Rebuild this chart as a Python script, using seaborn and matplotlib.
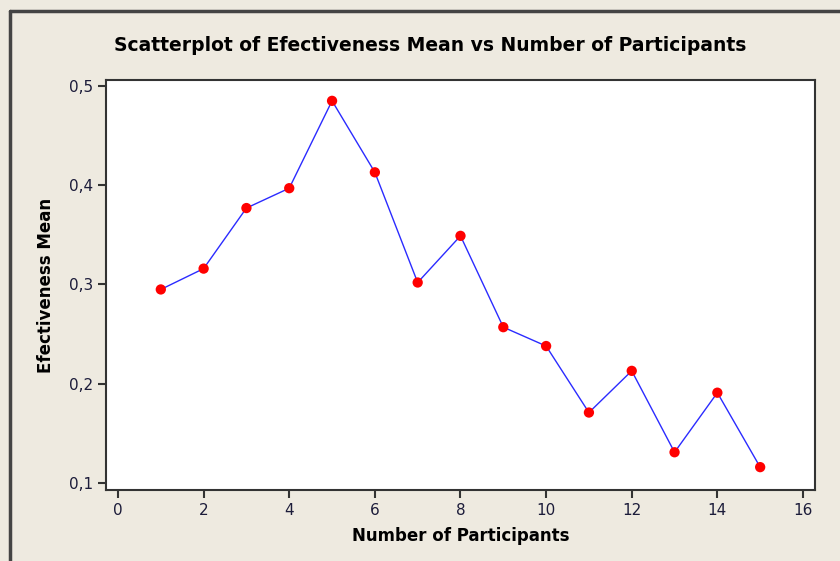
import numpy as np
import pandas as pd
import matplotlib
matplotlib.use("Agg")
import matplotlib.pyplot as plt
import seaborn as sns
from matplotlib.lines import Line2D
from matplotlib.ticker import FuncFormatter

# values
participants = [1, 2, 3, 4, 5, 6, 7, 8, 9, 10, 11, 12, 13, 14, 15]
effectiveness = [0.295, 0.316, 0.377, 0.397, 0.485, 0.413, 0.302, 0.349,
                 0.257, 0.238, 0.171, 0.213, 0.131, 0.191, 0.116]
x_ticks = [0, 2, 4, 6, 8, 10, 12, 14, 16]
y_ticks = [0.1, 0.2, 0.3, 0.4, 0.5]

df = pd.DataFrame({"Number of Participants": participants,
                   "Efectiveness Mean": effectiveness})

sns.set_style("white")
plt.rcParams['font.family'] = ['DejaVu Sans']
plt.rcParams['text.color'] = 'black'
plt.rcParams['axes.labelcolor'] = 'black'

bg = "#EEEAE0"
fig = plt.figure(figsize=(8.4, 5.61), dpi=100, facecolor=bg)
ax = fig.add_axes([0.1262, 0.1266, 0.844, 0.7308])
ax.set_facecolor("white")

sns.lineplot(data=df, x="Number of Participants", y="Efectiveness Mean",
             color="#2B2BFF", linewidth=1, ax=ax)
sns.scatterplot(data=df, x="Number of Participants", y="Efectiveness Mean",
                color="#FF0000", s=55, edgecolor="none", ax=ax, zorder=3)

ax.set_xlim(-0.28, 16.28)
ax.set_ylim(0.093, 0.506)
ax.set_xticks(x_ticks)
ax.set_yticks(y_ticks)
comma = FuncFormatter(lambda v, p: f"{v:.1f}".replace(".", ","))
ax.yaxis.set_major_formatter(comma)
ax.tick_params(axis="both", direction="out", length=6, width=1.5,
               color="#333333", labelsize=11, labelcolor="#1C1C3A",
               left=True, bottom=True)
for sp in ax.spines.values():
    sp.set_color("#333333")
    sp.set_linewidth(1.5)

ax.set_xlabel("Number of Participants", fontsize=12, fontweight="bold",
              labelpad=6)
ax.set_ylabel("Efectiveness Mean", fontsize=12, fontweight="bold",
              labelpad=10)
fig.suptitle("Scatterplot of Efectiveness Mean vs Number of Participants",
             x=0.512, y=0.935, fontsize=13.5, fontweight="bold")

# outer window frame (top and left edges)
fig.add_artist(Line2D([10 / 840, 1], [1 - 11 / 561, 1 - 11 / 561],
                      color="#444444", linewidth=2.5,
                      transform=fig.transFigure))
fig.add_artist(Line2D([10 / 840, 10 / 840], [0, 1 - 11 / 561],
                      color="#444444", linewidth=2.5,
                      transform=fig.transFigure))

fig.savefig("out.png", dpi=100, facecolor=bg)
